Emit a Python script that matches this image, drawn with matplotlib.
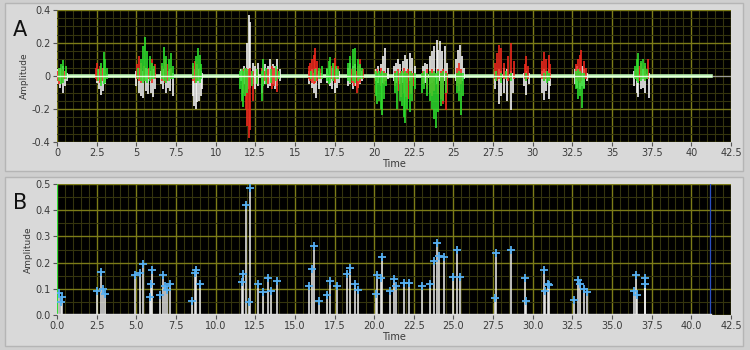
import matplotlib
matplotlib.use("Agg")
import matplotlib.pyplot as plt
from matplotlib.patches import Rectangle
from matplotlib.ticker import MultipleLocator, FixedLocator
import numpy as np

# ---------------- Panel A data (spikes: time, positive peak, negative peak) ----------------
WHITE_T = [0.05, 0.2, 0.35, 0.5, 0.6,
           2.5, 2.65, 2.8, 2.9, 3.05,
           5.0, 5.15, 5.3, 5.45, 5.6, 5.75, 5.9, 6.05, 6.15,
           6.55, 6.7, 6.85, 7.0, 7.15, 7.3,
           8.55, 8.65, 8.75, 8.85, 8.95, 9.05, 9.15,
           11.6, 11.8, 11.95, 12.08, 12.2, 12.35, 12.5, 12.7, 12.9, 13.1, 13.3, 13.45, 13.6, 13.75, 13.9, 14.05,
           15.9, 16.05, 16.2, 16.35, 16.5, 16.65,
           17.05, 17.2, 17.35, 17.5, 17.65, 17.8,
           18.35, 18.5, 18.65, 18.8, 18.95, 19.1, 19.25,
           20.1, 20.25, 20.4, 20.55, 20.7, 20.85,
           21.25, 21.4, 21.5, 21.65, 21.8, 21.95, 22.1, 22.25, 22.4, 22.55,
           23.05, 23.2, 23.35, 23.5, 23.65, 23.8, 23.93, 24.05, 24.16, 24.3, 24.47, 24.6,
           25.15, 25.3, 25.4, 25.55, 25.65,
           27.6, 27.85, 28.0, 28.2, 28.4, 28.6, 28.75,
           29.45, 29.6, 29.75,
           30.6, 30.72, 30.85, 31.0, 31.1,
           32.65, 32.8, 32.95, 33.1, 33.25, 33.4,
           36.4, 36.55, 36.66, 36.8, 36.95, 37.1, 37.3]
WHITE_HI = [0.04, 0.05, 0.06, 0.03, 0.02,
            0.02, 0.04, 0.03, 0.05, 0.02,
            0.03, 0.05, 0.04, 0.03, 0.05, 0.04, 0.03, 0.04, 0.02,
            0.03, 0.04, 0.05, 0.03, 0.04, 0.02,
            0.03, 0.04, 0.03, 0.05, 0.04, 0.03, 0.02,
            0.04, 0.06, 0.2, 0.37, 0.33, 0.08, 0.06, 0.08, 0.05, 0.07, 0.06, 0.1, 0.07, 0.06, 0.1, 0.04,
            0.03, 0.04, 0.02, 0.05, 0.03, 0.02,
            0.04, 0.06, 0.05, 0.04, 0.05, 0.03,
            0.05, 0.08, 0.06, 0.07, 0.05, 0.06, 0.03,
            0.04, 0.06, 0.07, 0.12, 0.168, 0.05,
            0.06, 0.08, 0.1, 0.07, 0.09, 0.125, 0.1, 0.14, 0.11, 0.06,
            0.06, 0.08, 0.07, 0.12, 0.15, 0.18, 0.218, 0.16, 0.21, 0.15, 0.18, 0.08,
            0.1, 0.16, 0.188, 0.12, 0.05,
            0.03, 0.04, 0.03, 0.05, 0.04, 0.03, 0.02,
            0.02, 0.03, 0.02,
            0.03, 0.04, 0.03, 0.04, 0.02,
            0.04, 0.06, 0.05, 0.06, 0.04, 0.02,
            0.03, 0.04, 0.05, 0.03, 0.04, 0.03, 0.02]
WHITE_LO = [-0.05, -0.07, -0.1, -0.06, -0.03,
            -0.04, -0.08, -0.115, -0.09, -0.05,
            -0.06, -0.1, -0.12, -0.135, -0.09, -0.11, -0.1, -0.13, -0.08,
            -0.05, -0.08, -0.1, -0.07, -0.09, -0.12,
            -0.12, -0.18, -0.2, -0.16, -0.15, -0.12, -0.08,
            -0.03, -0.05, -0.06, -0.08, -0.07, -0.05, -0.08, -0.06, -0.1, -0.05, -0.07, -0.06, -0.05, -0.08, -0.06, -0.03,
            -0.05, -0.07, -0.1, -0.135, -0.08, -0.04,
            -0.04, -0.06, -0.08, -0.1, -0.07, -0.04,
            -0.06, -0.05, -0.08, -0.06, -0.07, -0.05, -0.03,
            -0.03, -0.04, -0.05, -0.04, -0.03, -0.02,
            -0.03, -0.04, -0.03, -0.05, -0.04, -0.03, -0.04, -0.03, -0.02, -0.02,
            -0.03, -0.04, -0.03, -0.05, -0.04, -0.03, -0.05, -0.04, -0.03, -0.04, -0.03, -0.02,
            -0.03, -0.04, -0.05, -0.03, -0.02,
            -0.08, -0.17, -0.12, -0.1, -0.15, -0.206, -0.1,
            -0.06, -0.115, -0.05,
            -0.1, -0.145, -0.09, -0.14, -0.06,
            -0.05, -0.07, -0.08, -0.06, -0.07, -0.03,
            -0.06, -0.1, -0.125, -0.08, -0.07, -0.1, -0.135]

RED_T = [0.05, 0.15, 0.3, 0.45,
         2.45, 2.55, 2.7, 2.85, 3.0,
         5.05, 5.15, 5.3, 5.5, 5.8, 6.0, 6.15,
         6.6, 6.8, 6.95, 7.2,
         8.6, 8.7, 8.85, 9.0,
         11.7, 11.9, 12.0, 12.1, 12.2, 12.35, 12.6, 12.9, 13.1, 13.3, 13.55, 13.7, 13.9,
         15.9, 15.97, 16.1, 16.2, 16.29, 16.4, 16.6,
         17.3, 17.45, 17.55, 17.7,
         18.6, 18.75, 18.9, 19.0, 19.13, 19.3,
         20.2, 20.4, 20.6, 20.75,
         21.3, 21.5, 21.7, 21.85, 22.0, 22.15, 22.3, 22.45,
         23.1, 23.3, 23.5, 23.65, 23.8, 24.0, 24.2, 24.35, 24.5, 24.62,
         25.2, 25.35, 25.5,
         27.6, 27.75, 27.85, 28.0, 28.2, 28.45, 28.6, 28.8,
         29.5, 29.6, 29.7,
         30.6, 30.72, 30.85, 31.0, 31.1,
         32.7, 32.85, 32.95, 33.05, 33.2, 33.35,
         36.5, 36.7, 36.85, 37.05, 37.25]
RED_HI = [0.03, 0.05, 0.04, 0.03,
          0.05, 0.08, 0.06, 0.05, 0.04,
          0.07, 0.12, 0.08, 0.06, 0.05, 0.1, 0.07,
          0.06, 0.1, 0.07, 0.05,
          0.06, 0.09, 0.07, 0.05,
          0.04, 0.05, 0.03, 0.04, 0.05, 0.03, 0.04, 0.05, 0.03, 0.04, 0.06, 0.05, 0.04,
          0.06, 0.08, 0.1, 0.13, 0.168, 0.09, 0.04,
          0.06, 0.08, 0.11, 0.06,
          0.04, 0.05, 0.03, 0.06, 0.1, 0.04,
          0.04, 0.05, 0.03, 0.02,
          0.03, 0.04, 0.03, 0.05, 0.03, 0.04, 0.03, 0.02,
          0.03, 0.04, 0.03, 0.04, 0.03, 0.04, 0.03, 0.04, 0.03, 0.02,
          0.05, 0.08, 0.04,
          0.08, 0.14, 0.188, 0.17, 0.08, 0.12, 0.2, 0.09,
          0.07, 0.12, 0.06,
          0.09, 0.147, 0.1, 0.13, 0.07,
          0.07, 0.1, 0.13, 0.157, 0.09, 0.05,
          0.04, 0.06, 0.08, 0.06, 0.1]
RED_LO = [-0.03, -0.05, -0.04, -0.02,
          -0.02, -0.03, -0.04, -0.03, -0.02,
          -0.02, -0.03, -0.04, -0.03, -0.02, -0.04, -0.02,
          -0.03, -0.04, -0.03, -0.02,
          -0.03, -0.04, -0.03, -0.02,
          -0.1, -0.2, -0.3, -0.375, -0.33, -0.15, -0.04, -0.05, -0.03, -0.05, -0.08, -0.06, -0.095,
          -0.02, -0.03, -0.04, -0.05, -0.04, -0.03, -0.02,
          -0.02, -0.03, -0.04, -0.02,
          -0.04, -0.06, -0.105, -0.07, -0.04, -0.02,
          -0.03, -0.06, -0.05, -0.03,
          -0.06, -0.09, -0.125, -0.1, -0.13, -0.14, -0.11, -0.06,
          -0.05, -0.08, -0.1, -0.12, -0.09, -0.11, -0.14, -0.17, -0.206, -0.1,
          -0.06, -0.09, -0.05,
          -0.02, -0.03, -0.02, -0.03, -0.02, -0.03, -0.02, -0.02,
          -0.02, -0.03, -0.02,
          -0.02, -0.03, -0.02, -0.03, -0.02,
          -0.02, -0.03, -0.04, -0.03, -0.02, -0.02,
          -0.02, -0.03, -0.02, -0.03, -0.02]

GREEN_T = [0.1, 0.25, 0.4, 0.55,
           2.6, 2.75, 2.94, 3.05, 3.15,
           5.1, 5.3, 5.42, 5.55, 5.7, 5.85, 6.0, 6.1,
           6.6, 6.75, 6.9, 7.05, 7.17, 7.3,
           8.6, 8.75, 8.9, 9.0, 9.1,
           11.55, 11.65, 11.72, 11.85, 12.0, 12.3, 12.6, 12.9, 13.0, 13.2, 13.5, 13.8, 14.0,
           16.0, 16.3, 16.55, 16.7,
           17.05, 17.15, 17.24, 17.4, 17.6, 17.75,
           18.35, 18.5, 18.65, 18.8, 18.95, 19.1, 19.25,
           20.1, 20.2, 20.3, 20.4, 20.5, 20.6, 20.75,
           21.3, 21.45, 21.6, 21.75, 21.85, 21.95, 22.1, 22.25, 22.4, 22.55,
           23.0, 23.15, 23.35, 23.5, 23.65, 23.8, 23.9, 24.05, 24.2, 24.35, 24.5,
           25.2, 25.35, 25.5, 25.6,
           27.7, 28.0, 28.3, 28.6,
           29.6,
           30.7, 30.9, 31.05,
           32.7, 32.85, 32.95, 33.1, 33.25,
           36.45, 36.55, 36.66, 36.8, 36.95, 37.1, 37.2]
GREEN_HI = [0.05, 0.07, 0.097, 0.06,
            0.04, 0.08, 0.147, 0.1, 0.05,
            0.05, 0.1, 0.18, 0.238, 0.15, 0.12, 0.08, 0.06,
            0.08, 0.178, 0.12, 0.1, 0.14, 0.06,
            0.08, 0.12, 0.17, 0.13, 0.07,
            0.03, 0.04, 0.03, 0.05, 0.04, 0.03, 0.04, 0.03, 0.1, 0.05, 0.04, 0.06, 0.03,
            0.03, 0.04, 0.05, 0.06,
            0.05, 0.09, 0.117, 0.08, 0.06, 0.04,
            0.08, 0.12, 0.165, 0.168, 0.1, 0.07, 0.05,
            0.03, 0.02, 0.03, 0.02, 0.03, 0.02, 0.02,
            0.02, 0.03, 0.02, 0.03, 0.02, 0.03, 0.02, 0.03, 0.02, 0.02,
            0.02, 0.03, 0.02, 0.03, 0.02, 0.03, 0.02, 0.03, 0.02, 0.03, 0.02,
            0.02, 0.03, 0.02, 0.02,
            0.03, 0.02, 0.03, 0.02,
            0.02,
            0.02, 0.03, 0.02,
            0.03, 0.04, 0.03, 0.02, 0.02,
            0.06, 0.1, 0.137, 0.09, 0.1, 0.08, 0.04]
GREEN_LO = [-0.03, -0.05, -0.04, -0.02,
            -0.03, -0.06, -0.05, -0.04, -0.02,
            -0.02, -0.03, -0.04, -0.03, -0.04, -0.03, -0.02, -0.02,
            -0.02, -0.03, -0.04, -0.03, -0.02, -0.02,
            -0.02, -0.04, -0.03, -0.04, -0.02,
            -0.08, -0.15, -0.19, -0.12, -0.1, -0.06, -0.05, -0.15, -0.06, -0.05, -0.04, -0.03, -0.02,
            -0.02, -0.03, -0.02, -0.02,
            -0.03, -0.05, -0.04, -0.03, -0.02, -0.02,
            -0.03, -0.04, -0.03, -0.04, -0.03, -0.02, -0.02,
            -0.12, -0.17, -0.15, -0.2, -0.236, -0.14, -0.06,
            -0.1, -0.2, -0.15, -0.18, -0.25, -0.287, -0.2, -0.22, -0.15, -0.08,
            -0.1, -0.08, -0.12, -0.15, -0.2, -0.26, -0.317, -0.22, -0.18, -0.15, -0.1,
            -0.1, -0.15, -0.236, -0.12,
            -0.03, -0.04, -0.02, -0.03,
            -0.03,
            -0.03, -0.04, -0.03,
            -0.08, -0.14, -0.12, -0.196, -0.08,
            -0.02, -0.03, -0.04, -0.03, -0.02, -0.03, -0.02]

SIGNAL_END = 41.25   # recorded signal ends here (baseline trace)
TIME_MAX = 42.5

# ---------------- Panel B data (envelope peaks) ----------------
PEAK_T = [0.15, 0.25, 0.34,
          2.5, 2.78, 2.9, 3.0,
          4.92, 5.24, 5.45, 5.85, 5.9, 5.98, 6.5, 6.71, 6.82, 6.95, 7.14,
          8.5, 8.71, 8.77, 9.0,
          11.66, 11.7, 11.9, 12.1, 12.15,
          12.7, 13.0, 13.3, 13.5, 13.87,
          15.9, 16.1, 16.2, 16.5,
          17.0, 17.24, 17.65,
          18.3, 18.45, 18.8, 19.0,
          20.1, 20.15, 20.45, 20.5,
          21.0, 21.24, 21.4, 21.9, 22.2,
          23.0, 23.55, 23.76, 23.93, 24.1, 24.4,
          25.0, 25.25, 25.4,
          27.65, 27.7,
          28.6,
          29.54, 29.6,
          30.7, 30.8, 30.95, 31.0,
          32.63, 32.85, 32.97, 33.2, 33.4,
          36.4, 36.5, 36.6, 37.07, 37.1]
PEAK_A = [0.083, 0.05, 0.07,
          0.092, 0.165, 0.1, 0.08,
          0.153, 0.16, 0.193, 0.07, 0.12, 0.17, 0.075, 0.153, 0.11, 0.095, 0.117,
          0.055, 0.16, 0.17, 0.12,
          0.125, 0.155, 0.42, 0.05, 0.484,
          0.117, 0.087, 0.142, 0.09, 0.13,
          0.11, 0.175, 0.263, 0.053,
          0.075, 0.13, 0.11,
          0.155, 0.178, 0.12, 0.097,
          0.08, 0.153, 0.14, 0.223,
          0.09, 0.137, 0.11, 0.124, 0.124,
          0.11, 0.117, 0.206, 0.273, 0.225, 0.22,
          0.145, 0.248, 0.145,
          0.065, 0.235,
          0.248,
          0.14, 0.053,
          0.172, 0.09, 0.12, 0.113,
          0.057, 0.133, 0.12, 0.10, 0.087,
          0.09, 0.153, 0.075, 0.14, 0.12]
CURSOR_B = 41.2

A_YTICKS = [-0.4, -0.2, 0.0, 0.2, 0.4]
A_YLABELS = ["-0.4", "-0.2", "0", "0.2", "0.4"]
X_TICKS = [0, 2.5, 5, 7.5, 10, 12.5, 15, 17.5, 20, 22.5, 25, 27.5, 30, 32.5, 35, 37.5, 40, 42.5]
A_XLABELS = ["0", "2.5", "5", "7.5", "10", "12.5", "15", "17.5", "20", "22.5", "25",
             "27.5", "30", "32.5", "35", "37.5", "40", "42.5"]
B_XLABELS = ["%.1f" % v for v in X_TICKS]
B_YTICKS = [0.0, 0.1, 0.2, 0.3, 0.4, 0.5]
B_YLABELS = ["0.0", "0.1", "0.2", "0.3", "0.4", "0.5"]

# ---------------- Figure ----------------
fig = plt.figure(figsize=(7.5, 3.5), dpi=100, facecolor="#cfcfcf")
W, H = 750.0, 350.0

# panel frames
for (x0, y0, x1, y1) in [(5, 3, 743, 171), (5, 177, 743, 346)]:
    fig.patches.append(Rectangle((x0 / W, 1 - y1 / H), (x1 - x0) / W, (y1 - y0) / H,
                                 transform=fig.transFigure, facecolor="#d9d9d9",
                                 edgecolor="#b5b5b5", linewidth=1.0, zorder=-5))

axA = fig.add_axes([57 / W, 1 - 142 / H, 674 / W, 132 / H])
axB = fig.add_axes([57 / W, 1 - 315 / H, 674 / W, 131 / H])
axA.set_zorder(2)
axB.set_zorder(2)

MAJOR_C = "#7c7c18"
MINOR_C = "#34340e"
TXT_C = "#3a3a3a"

def style(ax, ymin, ymax, yminor, yt, yl, xl):
    ax.set_facecolor("black")
    ax.set_xlim(0, TIME_MAX)
    ax.set_ylim(ymin, ymax)
    ax.xaxis.set_major_locator(FixedLocator(X_TICKS))
    ax.xaxis.set_minor_locator(MultipleLocator(0.5))
    ax.yaxis.set_major_locator(FixedLocator(yt))
    ax.yaxis.set_minor_locator(MultipleLocator(yminor))
    ax.set_xticklabels(xl)
    ax.set_yticklabels(yl)
    ax.grid(which="major", color=MAJOR_C, linewidth=1.0)
    ax.grid(which="minor", color=MINOR_C, linewidth=0.8)
    ax.set_axisbelow(True)
    ax.tick_params(which="major", length=3, width=0.8, color="#555555",
                   labelsize=7, labelcolor=TXT_C, pad=1.5)
    ax.tick_params(which="minor", length=0)
    for s in ax.spines.values():
        s.set_visible(False)
    ax.set_xlabel("Time", fontsize=7, color=TXT_C, labelpad=0.5)
    ax.set_ylabel("Amplitude", fontsize=6.5, color=TXT_C, labelpad=2)

style(axA, -0.4, 0.4, 0.05, A_YTICKS, A_YLABELS, A_XLABELS)
style(axB, 0.0, 0.5, 0.05, B_YTICKS, B_YLABELS, B_XLABELS)

# Panel A traces
axA.plot([SIGNAL_END, TIME_MAX], [0, 0], color="#9a9a9a", linewidth=0.8, zorder=2)
axA.plot([0, SIGNAL_END], [0, 0], color="#b8f0b0", linewidth=2.6, zorder=2)
axA.vlines(WHITE_T, WHITE_LO, WHITE_HI, color="#f4f4f4", linewidth=1.2, zorder=3)
axA.vlines(RED_T, RED_LO, RED_HI, color="#f02a1e", linewidth=1.2, zorder=4)
axA.vlines(GREEN_T, GREEN_LO, GREEN_HI, color="#2ee02e", linewidth=1.2, zorder=5)
axA.plot([0, SIGNAL_END], [0, 0], color="#e8ffe0", linewidth=1.0, zorder=6)

# Panel B traces
axB.axvline(0.02, color="#33dd33", linewidth=1.5, zorder=3)
axB.axvline(CURSOR_B, color="#2a4fc0", linewidth=0.9, zorder=3)
axB.plot([0, SIGNAL_END], [0.004, 0.004], color="#e0e0e0", linewidth=1.0, zorder=4)
axB.vlines(PEAK_T, 0.004, PEAK_A, color="#f0f0f0", linewidth=1.1, zorder=5)
axB.plot(PEAK_T, PEAK_A, linestyle="none", marker="+", markersize=6,
         markeredgewidth=1.3, color="#56b0f2", zorder=6)

fig.text(13 / W, 1 - 30 / H, "A", fontsize=15, color="#111111", va="center", ha="left")
fig.text(13 / W, 1 - 203 / H, "B", fontsize=15, color="#111111", va="center", ha="left")

fig.savefig("out.png", dpi=100, facecolor=fig.get_facecolor())
